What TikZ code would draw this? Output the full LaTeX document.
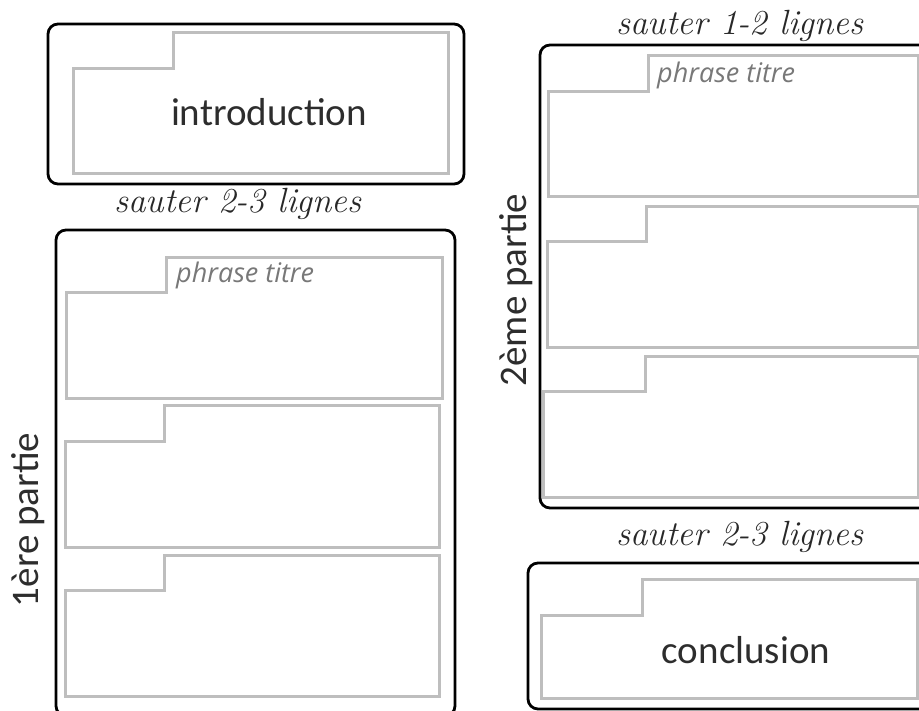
\documentclass[tikz,border=0pt]{standalone}
\usepackage{fontspec}
\setmainfont{Carlito}
\newfontfamily\titrefont{Open Sans}
\newcommand\cursivefont{\fontencoding{TU}\fontfamily{lmr}\fontseries{m}\fontshape{it}\selectfont}
\definecolor{tabgray}{RGB}{190,190,190}
\definecolor{titregray}{RGB}{120,120,120}
\definecolor{labelgray}{RGB}{45,45,45}
\definecolor{cursivegray}{RGB}{40,40,40}
\tikzset{
  outerbox/.style={draw=black, line width=2.8pt, rounded corners=10pt},
  tab/.style={draw=tabgray, line width=3pt, line join=miter},
  boxlabel/.style={inner sep=0pt, text=labelgray, font=\fontsize{39}{41}\selectfont},
  titre/.style={inner sep=0pt, anchor=base west, text=titregray, font=\titrefont\itshape\fontsize{27}{29}\selectfont},
  skip/.style={inner sep=0pt, anchor=base, text=cursivegray, font=\cursivefont\fontsize{35}{37}\selectfont}
}
\newcommand\tabbox[6]{\draw[tab] (#1,#4) -- (#3,#4) -- (#3,#2) -- (#5,#2) -- (#5,#6) -- (#1,#6) -- cycle;}
\begin{document}
\begin{tikzpicture}[x=1pt,y=-1pt]
\useasboundingbox (0,0) rectangle (919,711);
\begin{scope}
\clip (0,0) rectangle (919,711);
% introduction
\draw[outerbox] (48,24) rectangle (464,184);
\tabbox{73}{33}{173}{69}{448}{174}
\node[boxlabel] (intro) at (269,112) {introduction};
\node[skip] (skipA) at (238,213) {sauter 2-3 lignes};
% part 1
\draw[outerbox] (56,230) rectangle (455,716);
\tabbox{66}{258}{166}{293}{442}{399}
\tabbox{65}{406}{164}{441}{439}{547}
\tabbox{65}{555}{164}{590}{439}{696}
\node[titre] (titreA) at (176,283) {phrase titre};
\node[boxlabel, rotate=90] (partA) at (28,520) {1ère partie};
% part 2
\node[skip] (skipB) at (740,35) {sauter 1-2 lignes};
\draw[outerbox] (540,45) rectangle (935,508);
\tabbox{548}{56}{648}{92}{918}{197}
\tabbox{547}{207}{646}{242}{918}{348}
\tabbox{543}{357}{645}{392}{918}{497}
\node[titre] (titreB) at (657,83) {phrase titre};
\node[boxlabel, rotate=90] (partB) at (516,290) {2ème partie};
% conclusion
\node[skip] (skipC) at (740,545) {sauter 2-3 lignes};
\draw[outerbox] (528,563) rectangle (935,709);
\tabbox{541}{579}{642}{615}{917}{698}
\node[boxlabel] (concl) at (746,650) {conclusion};
\end{scope}
\end{tikzpicture}
\end{document}
